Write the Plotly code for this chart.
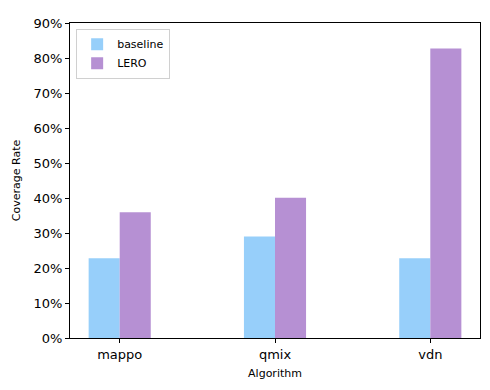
import plotly.graph_objects as go

algorithms = ["mappo", "qmix", "vdn"]
baseline = [0.228, 0.290, 0.228]
lero = [0.359, 0.401, 0.827]
y_ticks = [0, 0.1, 0.2, 0.3, 0.4, 0.5, 0.6, 0.7, 0.8, 0.9]

fig = go.Figure()
fig.add_trace(go.Bar(x=algorithms, y=baseline, name="baseline",
                     marker=dict(color="#97CFFA", line=dict(width=0)),
                     width=0.2, offset=-0.2))
fig.add_trace(go.Bar(x=algorithms, y=lero, name="LERO",
                     marker=dict(color="#B690D3", line=dict(width=0)),
                     width=0.2, offset=0))

axis_common = dict(showline=True, linecolor="black", linewidth=1, mirror=True,
                   ticks="outside", ticklen=4, tickcolor="black", showgrid=False,
                   zeroline=False, tickfont=dict(size=13, color="black"))

# page body has an 8px margin, so the figure is a bit smaller than the window
fig.update_layout(
    width=482, height=382,
    margin=dict(l=61, r=10, t=8, b=52),
    paper_bgcolor="white", plot_bgcolor="white",
    font=dict(family="DejaVu Sans", color="black"),
    barmode="overlay",
    showlegend=True,
    legend=dict(x=0.015, y=0.982, xanchor="left", yanchor="top",
                bordercolor="#d0d0d0", borderwidth=1, bgcolor="white",
                font=dict(size=11), itemwidth=30, tracegroupgap=0),
    xaxis=dict(axis_common, range=[-0.32, 2.32],
               title=dict(text="Algorithm", font=dict(size=11), standoff=8)),
    yaxis=dict(axis_common, range=[0, 0.9], tickvals=y_ticks, tickformat=".0%",
               title=dict(text="Coverage Rate", font=dict(size=11), standoff=10)),
)

fig.write_html("out.html")
